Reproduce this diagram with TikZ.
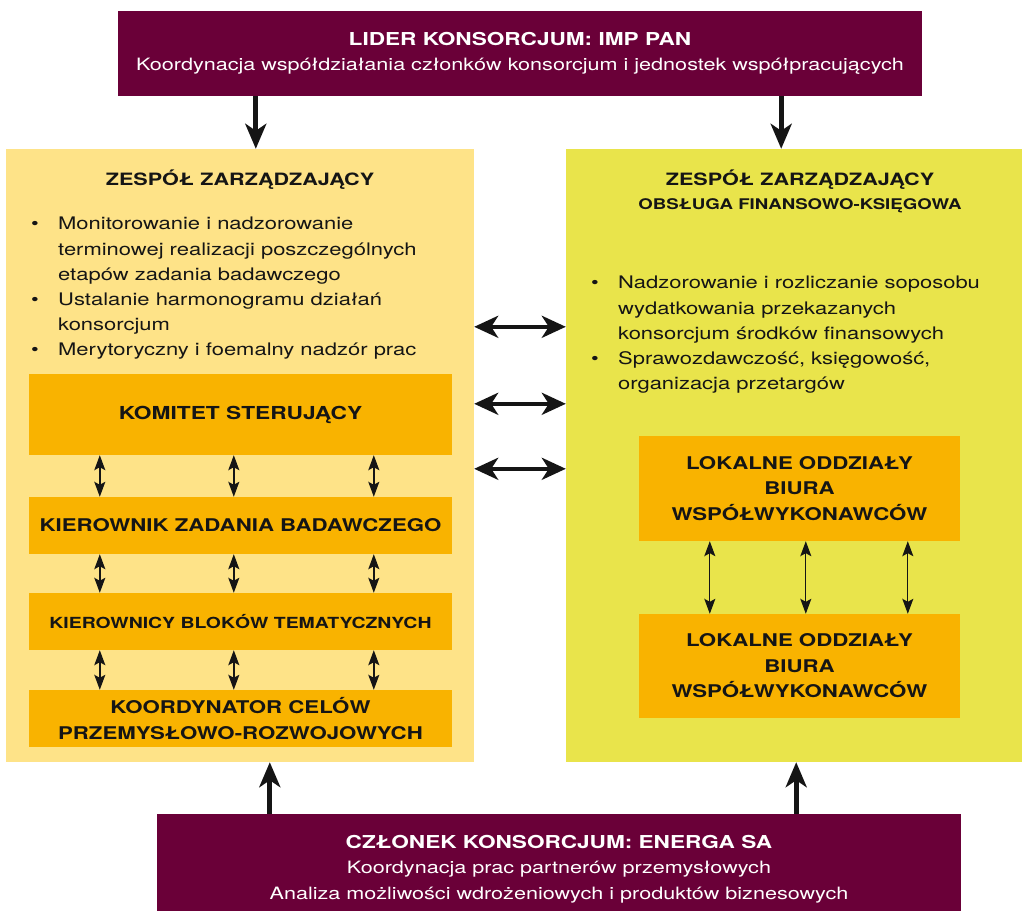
\documentclass[tikz,border=0pt]{standalone}
\usepackage{fontspec}
\setmainfont{TeX Gyre Heros}[FakeStretch=1.27]
\usepackage{xcolor}
\usetikzlibrary{arrows.meta,positioning}

\definecolor{bordo}{RGB}{106,0,56}
\definecolor{jasnyzolty}{RGB}{254,227,136}
\definecolor{zielonkawy}{RGB}{233,228,75}
\definecolor{pomar}{RGB}{249,179,0}
\definecolor{czern}{RGB}{21,21,21}

\newcommand{\pkt}{\makebox[27pt][l]{\textbullet}}
\newcommand{\wc}{\hspace*{27pt}}

\begin{document}
\begin{tikzpicture}[x=1pt, y=-1pt,
	ciemny/.style={fill=bordo, text=white, minimum width=804pt, align=center, inner sep=0pt,
		font=\fontsize{17}{25.5}\selectfont},
	panel/.style={minimum height=613pt, inner sep=0pt},
	blok/.style={fill=pomar, text=czern, minimum width=423pt, align=center, inner sep=0pt,
		font=\bfseries\fontsize{17.5}{26.5}\selectfont},
	lok/.style={blok, minimum width=321pt, font=\bfseries\fontsize{17.5}{25.5}\selectfont},
	lista/.style={anchor=north west, align=left, inner sep=0pt, text=czern,
		font=\fontsize{17.3}{25.2}\selectfont},
	tytul/.style={text=czern, inner sep=0pt, font=\bfseries\fontsize{17}{24}\selectfont},
	gruba/.style={-{Stealth[length=25pt, width=21pt, inset=7pt]}, line width=5pt, czern},
	dwu/.style={{Stealth[length=24pt, width=22pt, inset=7pt]}-{Stealth[length=24pt, width=22pt, inset=7pt]},
		line width=4pt, czern},
	cienka/.style={{Stealth[length=15pt, width=11pt, inset=3pt]}-{Stealth[length=15pt, width=11pt, inset=3pt]},
		line width=1.5pt, czern}
]
	\fill[white] (0,0) rectangle (1022,910);
	\useasboundingbox (0,0) rectangle (1022,910);

	% gorny i dolny blok
	\node[ciemny, minimum height=85pt] (lider) at (520, 53.5)
		{{\bfseries\fontsize{17.8}{25.5}\selectfont LIDER KONSORCJUM: IMP PAN}\\
		 Koordynacja współdziałania członków konsorcjum i jednostek współpracujących};
	\node[ciemny, minimum height=110pt] (czlonek) at (559, 869)
		{{\bfseries\fontsize{17.8}{25.5}\selectfont CZŁONEK KONSORCJUM: ENERGA SA}\\
		 Koordynacja prac partnerów przemysłowych\\
		 Analiza możliwości wdrożeniowych i produktów biznesowych};

	% panele
	\node[panel, fill=jasnyzolty, minimum width=468pt] (lewy) at (240, 455.5) {};
	\node[panel, fill=zielonkawy, minimum width=456pt] (prawy) at (794, 455.5) {};

	% lewy panel
	\node[tytul] (ltytul) at (240, 180) {ZESPÓŁ ZARZĄDZAJĄCY};
	\node[lista] (llista) at (31, 217)
		{\pkt Monitorowanie i nadzorowanie\\
		 \wc terminowej realizacji poszczególnych\\
		 \wc etapów zadania badawczego\\
		 \pkt Ustalanie harmonogramu działań\\
		 \wc konsorcjum\\
		 \pkt Merytoryczny i foemalny nadzór prac};
	\node[blok, minimum height=81pt] (komitet) at (240.5, 414.5)
		{\fontsize{17.9}{26}\selectfont KOMITET STERUJĄCY};
	\node[blok, minimum height=57pt] (kierownik) at (240.5, 525.5) {KIEROWNIK ZADANIA BADAWCZEGO};
	\node[blok, minimum height=57pt] (bloki) at (240.5, 621.5)
		{\fontsize{15.3}{20}\selectfont KIEROWNICY BLOKÓW TEMATYCZNYCH};
	\node[blok, minimum height=57pt] (koord) at (240.5, 718.5)
		{KOORDYNATOR CELÓW\\ PRZEMYSŁOWO-ROZWOJOWYCH};

	% prawy panel
	\node[tytul, align=center] (ptytul) at (800, 191)
		{ZESPÓŁ ZARZĄDZAJĄCY\\ {\fontsize{14.7}{20}\selectfont OBSŁUGA FINANSOWO-KSIĘGOWA}};
	\node[lista] (plista) at (591, 276)
		{\pkt Nadzorowanie i rozliczanie soposobu\\
		 \wc wydatkowania przekazanych\\
		 \wc konsorcjum środków finansowych\\
		 \pkt Sprawozdawczość, księgowość,\\
		 \wc organizacja przetargów};
	\node[lok, minimum height=105pt] (lok1) at (799.5, 488.5)
		{LOKALNE ODDZIAŁY\\ BIURA\\ WSPÓŁWYKONAWCÓW};
	\node[lok, minimum height=104pt] (lok2) at (799.5, 666)
		{LOKALNE ODDZIAŁY\\ BIURA\\ WSPÓŁWYKONAWCÓW};

	% strzalki z gory i z dolu
	\draw[gruba] ([xshift=138pt]lider.south west) -- ([xshift=138pt]lider.south west |- lewy.north);
	\draw[gruba] ([xshift=-141pt]lider.south east) -- ([xshift=-141pt]lider.south east |- prawy.north);
	\draw[gruba] ([xshift=113pt]czlonek.north west) -- ([xshift=113pt]czlonek.north west |- lewy.south);
	\draw[gruba] ([xshift=-165pt]czlonek.north east) -- ([xshift=-165pt]czlonek.north east |- prawy.south);

	% miedzy panelami
	\foreach \dy in {178,255,320}
		\draw[dwu] ([yshift=-\dy pt]lewy.north east) -- ([yshift=-\dy pt]lewy.north east -| prawy.west);

	% wewnatrz paneli
	\foreach \a/\b in {komitet/kierownik, kierownik/bloki, bloki/koord}
		\foreach \dx in {71,205,345}
			\draw[cienka] ([xshift=\dx pt]\a.south west) -- ([xshift=\dx pt]\b.north west);
	\foreach \dx in {71,167,269}
		\draw[cienka, line width=1.3pt] ([xshift=\dx pt]lok1.south west) -- ([xshift=\dx pt]lok2.north west);
\end{tikzpicture}
\end{document}
